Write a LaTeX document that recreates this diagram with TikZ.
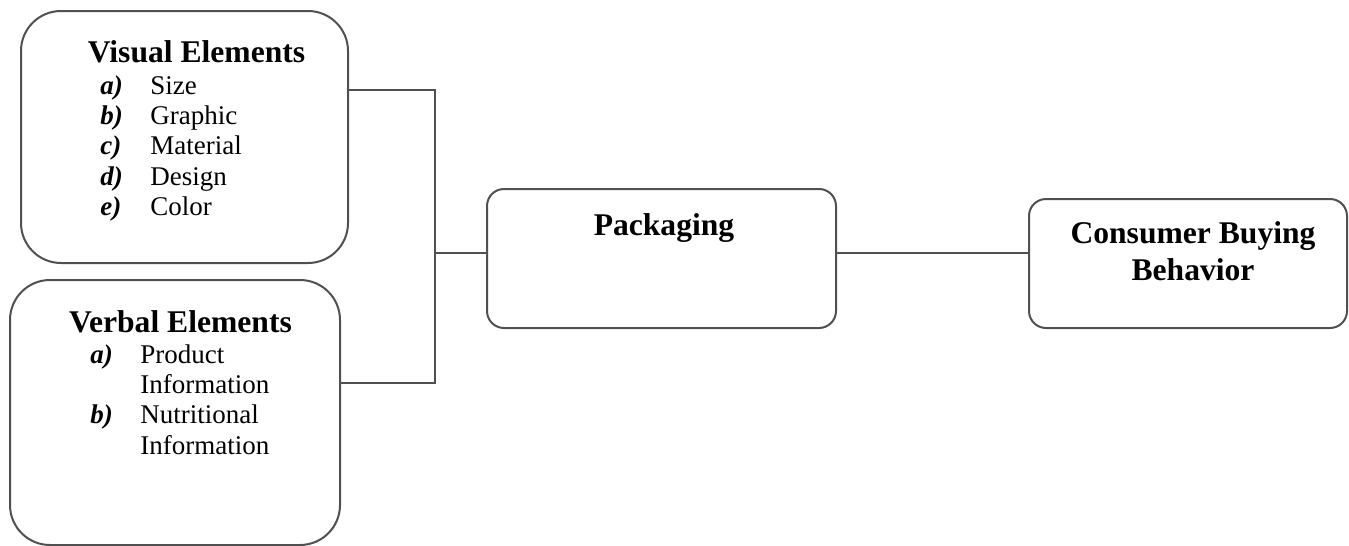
\documentclass[tikz,border=0pt]{standalone}
\usepackage{fontspec}
\setmainfont{Liberation Serif}
\usepackage{xcolor}
\usepackage{tikz}
\usetikzlibrary{positioning}
\definecolor{linegray}{HTML}{505050}
\newcommand{\headfont}{\fontsize{15.8}{18.5}\selectfont\bfseries}
\newcommand{\itemfont}{\fontsize{13.5}{15.2}\selectfont}
\newcommand{\itemlbl}[1]{\textbf{\textit{#1}}}
\tikzset{
  bigbox/.style={draw=linegray,line width=1pt,rounded corners=20pt,fill=white},
  midbox/.style={draw=linegray,line width=1pt,rounded corners=8.5pt,fill=white},
  headtext/.style={inner sep=0pt,anchor=base,font=\headfont},
  listtext/.style={inner sep=0pt,anchor=base west,font=\itemfont},
  link/.style={draw=linegray,line width=1pt}
}

\begin{document}
\begin{tikzpicture}[x=0.5pt,y=-0.5pt]
\useasboundingbox (0,0) rectangle (1349,546);
% boxes
\node[bigbox,minimum width=163.5pt,minimum height=126pt] (visual) at (184.5,137) {};
\node[bigbox,minimum width=165pt,minimum height=132.5pt] (verbal) at (175,412.5) {};
\node[midbox,minimum width=174.5pt,minimum height=69.5pt] (pack) at (661.5,258.5) {};
\node[midbox,minimum width=159pt,minimum height=64.5pt] (buying) at (1188,263.5) {};
% headings
\node[headtext] (visualhead) at (196.5,62) {Visual Elements};
\node[headtext] (verbalhead) at (180.5,332) {Verbal Elements};
\node[headtext] (packhead) at (664,235) {Packaging};
\node[headtext] (buyinghead) at (1193,243)
  {\begin{tabular}[t]{@{}c@{}}Consumer Buying\\Behavior\end{tabular}};
% item lists
\node[listtext] (visuallist) at (100,94) {\begin{tabular}[t]{@{}p{25pt}@{}l@{}}
  \itemlbl{a)} & Size\\
  \itemlbl{b)} & Graphic\\
  \itemlbl{c)} & Material\\
  \itemlbl{d)} & Design\\
  \itemlbl{e)} & Color
\end{tabular}};
\node[listtext] (verballist) at (90,363) {\begin{tabular}[t]{@{}p{25pt}@{}l@{}}
  \itemlbl{a)} & Product\\
               & Information\\
  \itemlbl{b)} & Nutritional\\
               & Information
\end{tabular}};
% connectors
\coordinate (bustop) at (435,90);
\coordinate (busmid) at (435,253);
\coordinate (busbot) at (435,383);
\draw[link] (visual.east |- bustop) -- (bustop) -- (busbot) -- (verbal.east |- busbot);
\draw[link] (busmid) -- (pack.west |- busmid);
\draw[link] (pack.east |- busmid) -- (buying.west |- busmid);
\end{tikzpicture}
\end{document}
